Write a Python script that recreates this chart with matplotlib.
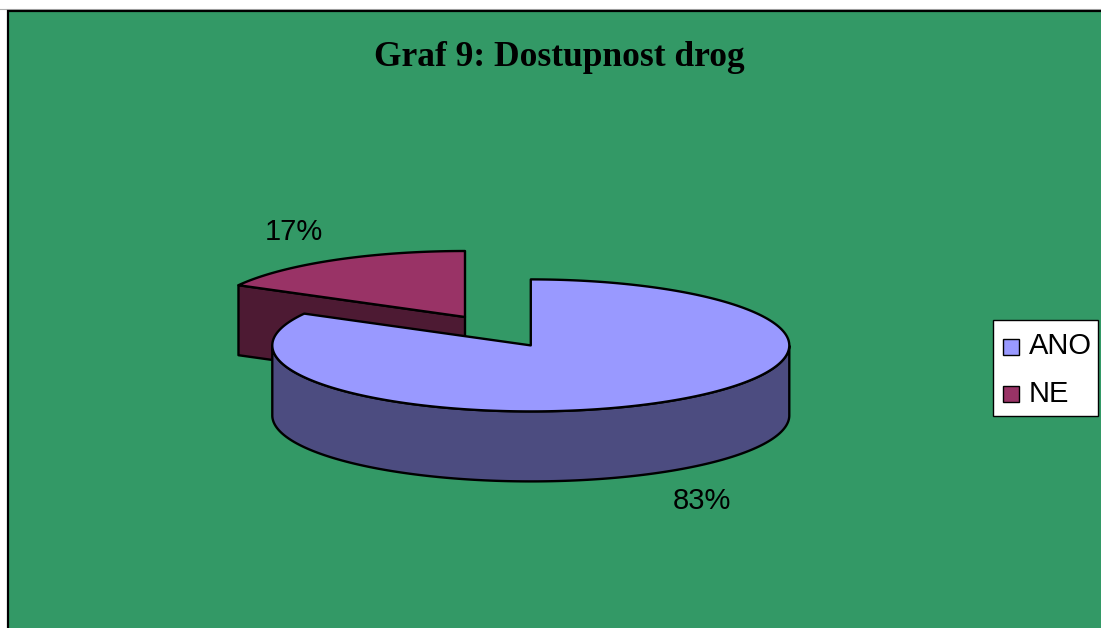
import numpy as np
import matplotlib.pyplot as plt
from matplotlib.patches import Polygon, Rectangle

# data
labels = ["ANO", "NE"]
values = [83, 17]
top_colors = ["#9999FF", "#993366"]
side_colors = ["#4C4C80", "#4D1A33"]
explode = [0.5, 0.0]
title = "Graf 9: Dostupnost drog"

W, H = 1101, 628
fig = plt.figure(figsize=(W / 100, H / 100), dpi=100)
ax = fig.add_axes([0, 0, 1, 1])
ax.set_xlim(0, W)
ax.set_ylim(H, 0)
ax.axis("off")

# chart area (green, cut off at right / bottom like the original)
ax.plot([0, W], [9, 9], color="#b0b0b0", lw=0.8, zorder=0)
ax.add_patch(Rectangle((7.5, 10.5), W + 50, H + 50, facecolor="#339966", edgecolor="black", lw=1.6, zorder=0))

ax.text(559, 57, title, ha="center", va="center", fontsize=25.5, fontweight="bold",
        family="Liberation Serif")

# 3D pie geometry (pixels)
cx0, cy0 = 465, 317
a, b, depth = 258.5, 66, 70
lw = 1.7


def rim(cx, cy, t, dz=0):
    return np.column_stack([cx + a * np.cos(t), cy - b * np.sin(t) + dz])


total = sum(values)
cum = np.concatenate([[0], np.cumsum(values)]) / total
slices = []
for i in range(len(values)):
    t1 = np.deg2rad(90 - cum[i + 1] * 360)  # pie runs clockwise from 12 o'clock
    t2 = np.deg2rad(90 - cum[i] * 360)
    mid = (t1 + t2) / 2
    cx = cx0 + explode[i] * a * np.cos(mid)
    cy = cy0 - explode[i] * b * np.sin(mid)
    slices.append((i, t1, t2, mid, cx, cy))

# draw back slices first
for i, t1, t2, mid, cx, cy in sorted(slices, key=lambda s: -np.sin(s[3])):
    kw = dict(edgecolor="black", lw=lw, joinstyle="round")
    c = np.array([cx, cy])
    # radial cut faces
    for t, vis in ((t1, np.cos(t1) > 1e-9), (t2, np.cos(t2) < -1e-9)):
        if vis:
            p = rim(cx, cy, np.array([t]))[0]
            face = np.array([c, p, p + [0, depth], c + [0, depth]])
            ax.add_patch(Polygon(face, closed=True, facecolor=side_colors[i], **kw))
    # outer curved side, front half only
    tt = np.linspace(t1, t2, 600)
    front = np.sin(tt) <= 0
    if front.any():
        idx = np.where(front)[0]
        groups = np.split(idx, np.where(np.diff(idx) > 1)[0] + 1)
        for g in groups:
            seg = tt[g]
            upper = rim(cx, cy, seg)
            lower = rim(cx, cy, seg[::-1], depth)
            ax.add_patch(Polygon(np.vstack([upper, lower]), closed=True,
                                 facecolor=side_colors[i], **kw))
    # top face
    top = np.vstack([c, rim(cx, cy, tt)])
    ax.add_patch(Polygon(top, closed=True, facecolor=top_colors[i], **kw))

    # percentage label
    lx = cx + 1.3 * a * np.cos(mid)
    ly = cy - 1.5 * b * np.sin(mid) + (depth if np.sin(mid) < 0 else 0)
    ax.text(lx, ly, f"{values[i] / total * 100:.0f}%", ha="center", va="center",
            fontsize=21, family="Liberation Sans")

# legend
ax.add_patch(Rectangle((993, 320), 105, 96, facecolor="white", edgecolor="black", lw=1))
for k, name in enumerate(labels):
    yc = 346.5 + k * 47.5
    ax.add_patch(Rectangle((1003, yc - 8), 16, 16, facecolor=top_colors[k], edgecolor="black", lw=1))
    ax.text(1029, yc, name, ha="left", va="center", fontsize=21, family="Liberation Sans")

fig.savefig("out.png", dpi=100)
